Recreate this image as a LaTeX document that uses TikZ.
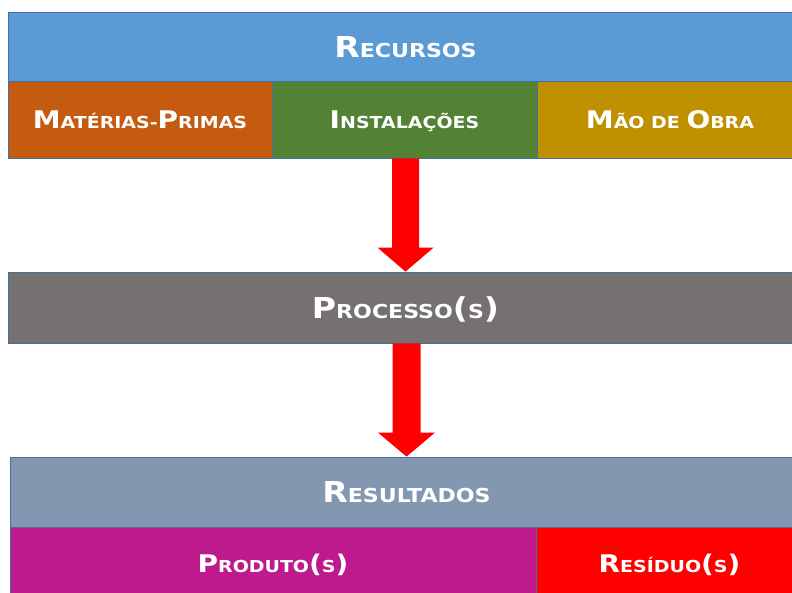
\documentclass[tikz,border=0pt]{standalone}
\usepackage{fontspec}
\setmainfont{DejaVu Sans}[FakeStretch=1.15]
\usetikzlibrary{calc}
\definecolor{cBlue}{HTML}{5B9BD5}
\definecolor{cOrange}{HTML}{C55A11}
\definecolor{cGreen}{HTML}{548235}
\definecolor{cGold}{HTML}{BF9000}
\definecolor{cGray}{HTML}{767171}
\definecolor{cSlate}{HTML}{8497B0}
\definecolor{cMagenta}{HTML}{BD1A8D}
\definecolor{cRed}{HTML}{FF0000}
\definecolor{cBorder}{HTML}{41719C}
\newcommand\tA[1]{{\fontsize{28.8pt}{30pt}\selectfont #1}}
\newcommand\tB[1]{{\fontsize{19.2pt}{20pt}\selectfont #1}}
\newcommand\sA[1]{{\fontsize{24.3pt}{26pt}\selectfont #1}}
\newcommand\sB[1]{{\fontsize{16.5pt}{18pt}\selectfont #1}}
\tikzset{
  box/.style={draw=cBorder, line width=0.8pt, inner sep=0pt, text=white,
    font=\bfseries, rectangle},
  titlebox/.style={box, text height=21pt, text depth=0pt},
  subbox/.style={box, text height=17.7pt, text depth=0pt},
  flowarrow/.style={fill=cRed},
}
\begin{document}
\begin{tikzpicture}[x=1pt,y=-1pt]
\useasboundingbox (0,0) rectangle (792,592);
\clip (0,0) rectangle (792,592);
\fill[white] (0,0) rectangle (792,592);
\node[titlebox, fill=cBlue, minimum width=795pt, minimum height=69pt] (rec) at (405.5,46.5) {\tA{R}\tB{ECURSOS}};
\node[subbox, fill=cOrange, minimum width=264pt, minimum height=77pt] (mp) at (140,119.5) {\sA{M}\sB{ATÉRIAS-}\sA{P}\sB{RIMAS}};
\node[subbox, fill=cGreen, minimum width=265pt, minimum height=77pt] (inst) at (404.5,119.5) {\sA{I}\sB{NSTALAÇÕES}};
\node[subbox, fill=cGold, minimum width=266pt, minimum height=77pt] (mao) at (670,119.5) {\sA{M}\sB{ÃO DE }\sA{O}\sB{BRA}};
\node[titlebox, fill=cGray, minimum width=795pt, minimum height=71pt] (proc) at (405.5,307.5) {\tA{P}\tB{ROCESSO}\tA{(}\tB{S}\tA{)}};
\node[titlebox, fill=cSlate, minimum width=793pt, minimum height=70pt] (res) at (406.5,492) {\tA{R}\tB{ESULTADOS}};
\node[subbox, fill=cMagenta, minimum width=526pt, minimum height=73pt] (prod) at (273,563.5) {\sA{P}\sB{RODUTO}\sA{(}\sB{S}\sA{)}};
\node[subbox, fill=cRed, minimum width=267pt, minimum height=73pt] (resid) at (669.5,563.5) {\sA{R}\sB{ESÍDUO}\sA{(}\sB{S}\sA{)}};
\path[flowarrow] let \p1=($(inst.south)+(1,0)$), \p2=(proc.north) in
  (\x1-13.5pt,\y1) -- (\x1-13.5pt,\y2+24pt) -- (\x1-28pt,\y2+24pt) -- (\x1,\y2)
  -- (\x1+28pt,\y2+24pt) -- (\x1+13.5pt,\y2+24pt) -- (\x1+13.5pt,\y1) -- cycle;
\path[flowarrow] let \p1=($(proc.south)+(1,0)$), \p2=(res.north) in
  (\x1-14pt,\y1) -- (\x1-14pt,\y2+24pt) -- (\x1-28.5pt,\y2+24pt) -- (\x1,\y2)
  -- (\x1+28.5pt,\y2+24pt) -- (\x1+14pt,\y2+24pt) -- (\x1+14pt,\y1) -- cycle;
\end{tikzpicture}
\end{document}
